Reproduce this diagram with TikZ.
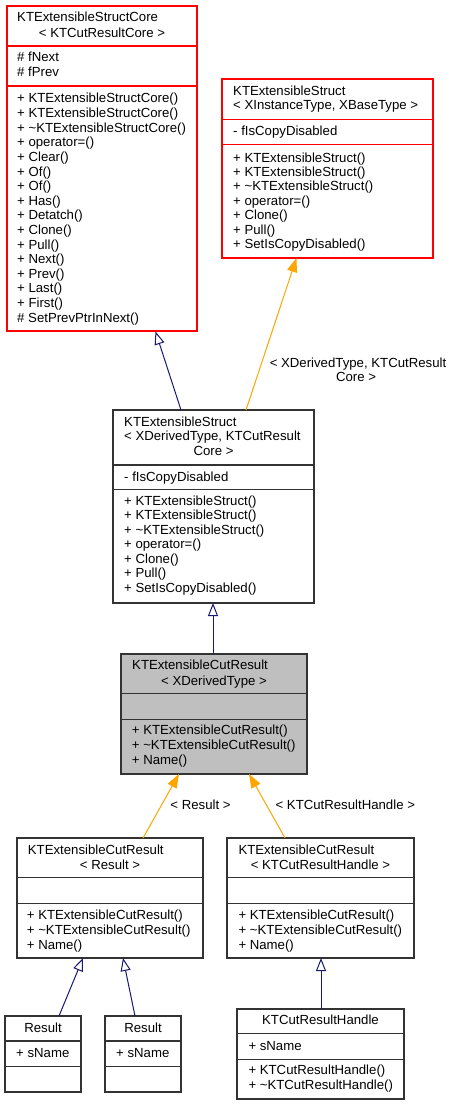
\documentclass[tikz,border=0pt]{standalone}
\usepackage{fontspec}
\setmainfont{Liberation Sans}
\usetikzlibrary{arrows.meta}
\definecolor{navy}{HTML}{191970}
\definecolor{orng}{HTML}{FFA500}
\definecolor{grayfill}{HTML}{BFBFBF}
\begin{document}
\begin{tikzpicture}[x=1pt,y=-1pt,
  box/.style={draw=black!80,line width=1.1pt,inner sep=0pt,outer sep=0pt},
  redbox/.style={box,draw=red},
  sep/.style={draw=black!80,line width=1.1pt},
  redsep/.style={sep,draw=red},
  txt/.style={font=\fontsize{13.2}{14.6}\selectfont,inner sep=0pt,anchor=base west},
  ctxt/.style={txt,anchor=base},
  inh/.style={draw=navy,line width=1pt,-{Triangle[open,length=13pt,width=10pt,fill=white]}},
  tmpl/.style={draw=orng,line width=1pt,-{Triangle[length=14pt,width=10pt]}}]
\useasboundingbox (0,0) rectangle (454,1105);

% ---------- Box A ----------
\node[redbox,minimum width=190pt,minimum height=325pt] (A) at (102,168.5) {};
\draw[redsep] (A.west |- 0,46) -- (A.east |- 0,46);
\draw[redsep] (A.west |- 0,86) -- (A.east |- 0,86);
\node[txt] (A-t1) at (17,22) {KTExtensibleStructCore};
\node[ctxt] (A-t2) at (102,37.3) {< KTCutResultCore >};
\node[txt] (A-a1) at (17,62) {\# fNext};
\node[txt] (A-a2) at (17,76.7) {\# fPrev};
\foreach [count=\i from 0] \t in {{+ KTExtensibleStructCore()},{+ KTExtensibleStructCore()},{+ \textasciitilde KTExtensibleStructCore()},{+ operator=()},{+ Clear()},{+ Of()},{+ Of()},{+ Has()},{+ Detatch()},{+ Clone()},{+ Pull()},{+ Next()},{+ Prev()},{+ Last()},{+ First()},{\# SetPrevPtrInNext()}}
  \node[txt] (A-m\i) at (17,103+\i*14.6) {\t};

% ---------- Box B ----------
\node[redbox,minimum width=211pt,minimum height=179pt] (B) at (327.5,168.5) {};
\draw[redsep] (B.west |- 0,119.3) -- (B.east |- 0,119.3);
\draw[redsep] (B.west |- 0,144.3) -- (B.east |- 0,144.3);
\node[txt] (B-t1) at (233,95.4) {KTExtensibleStruct};
\node[txt] (B-t2) at (233,109.7) {< XInstanceType, XBaseType >};
\node[txt] (B-a1) at (233,135.4) {- fIsCopyDisabled};
\foreach [count=\i from 0] \t in {{+ KTExtensibleStruct()},{+ KTExtensibleStruct()},{+ \textasciitilde KTExtensibleStruct()},{+ operator=()},{+ Clone()},{+ Pull()},{+ SetIsCopyDisabled()}}
  \node[txt] (B-m\i) at (233,162+\i*14.45) {\t};

% ---------- Box C ----------
\node[box,minimum width=201pt,minimum height=193pt] (C) at (213.5,506.5) {};
\draw[sep] (C.west |- 0,465) -- (C.east |- 0,465);
\draw[sep] (C.west |- 0,489.3) -- (C.east |- 0,489.3);
\node[txt] (C-t1) at (124,426.4) {KTExtensibleStruct};
\node[txt] (C-t2) at (124,440.9) {< XDerivedType, KTCutResult};
\node[ctxt] (C-t3) at (213.5,455.4) {Core >};
\node[txt] (C-a1) at (124,481.4) {- fIsCopyDisabled};
\foreach [count=\i from 0] \t in {{+ KTExtensibleStruct()},{+ KTExtensibleStruct()},{+ \textasciitilde KTExtensibleStruct()},{+ operator=()},{+ Clone()},{+ Pull()},{+ SetIsCopyDisabled()}}
  \node[txt] (C-m\i) at (124,505.4+\i*14.45) {\t};

% ---------- Box D ----------
\node[box,fill=grayfill,minimum width=186pt,minimum height=120pt] (D) at (214,714) {};
\draw[sep] (D.west |- 0,693.3) -- (D.east |- 0,693.3);
\draw[sep] (D.west |- 0,719.3) -- (D.east |- 0,719.3);
\node[txt] (D-t1) at (132,669.7) {KTExtensibleCutResult};
\node[ctxt] (D-t2) at (214,685.2) {< XDerivedType >};
\foreach [count=\i from 0] \t in {{+ KTExtensibleCutResult()},{+ \textasciitilde KTExtensibleCutResult()},{+ Name()}}
  \node[txt] (D-m\i) at (131.7,734.7+\i*15) {\t};

% ---------- Box E ----------
\node[box,minimum width=186pt,minimum height=120pt] (E) at (110,898) {};
\draw[sep] (E.west |- 0,877.3) -- (E.east |- 0,877.3);
\draw[sep] (E.west |- 0,903.3) -- (E.east |- 0,903.3);
\node[txt] (E-t1) at (27.7,854) {KTExtensibleCutResult};
\node[ctxt] (E-t2) at (110,869) {< Result >};
\foreach [count=\i from 0] \t in {{+ KTExtensibleCutResult()},{+ \textasciitilde KTExtensibleCutResult()},{+ Name()}}
  \node[txt] (E-m\i) at (26.7,919.7+\i*14.85) {\t};

% ---------- Box F ----------
\node[box,minimum width=187pt,minimum height=120pt] (F) at (320.5,898) {};
\draw[sep] (F.west |- 0,877.3) -- (F.east |- 0,877.3);
\draw[sep] (F.west |- 0,903.3) -- (F.east |- 0,903.3);
\node[txt] (F-t1) at (238.3,854) {KTExtensibleCutResult};
\node[ctxt] (F-t2) at (320.5,869) {< KTCutResultHandle >};
\foreach [count=\i from 0] \t in {{+ KTExtensibleCutResult()},{+ \textasciitilde KTExtensibleCutResult()},{+ Name()}}
  \node[txt] (F-m\i) at (238.3,919.7+\i*14.85) {\t};

% ---------- Box G ----------
\node[box,minimum width=76pt,minimum height=76pt] (G) at (43,1054) {};
\draw[sep] (G.west |- 0,1041) -- (G.east |- 0,1041);
\draw[sep] (G.west |- 0,1066.7) -- (G.east |- 0,1066.7);
\node[ctxt] (G-t1) at (43,1032) {Result};
\node[txt] (G-a1) at (16,1057) {+ sName};

% ---------- Box H ----------
\node[box,minimum width=76pt,minimum height=76pt] (H) at (143,1054) {};
\draw[sep] (H.west |- 0,1041) -- (H.east |- 0,1041);
\draw[sep] (H.west |- 0,1066.7) -- (H.east |- 0,1066.7);
\node[ctxt] (H-t1) at (143,1032) {Result};
\node[txt] (H-a1) at (116,1057) {+ sName};

% ---------- Box I ----------
\node[box,minimum width=167pt,minimum height=90pt] (I) at (320.5,1054) {};
\draw[sep] (I.west |- 0,1033.3) -- (I.east |- 0,1033.3);
\draw[sep] (I.west |- 0,1059.3) -- (I.east |- 0,1059.3);
\node[ctxt] (I-t1) at (320.5,1024.7) {KTCutResultHandle};
\node[txt] (I-a1) at (248.3,1050.4) {+ sName};
\node[txt] (I-m0) at (248.3,1074.7) {+ KTCutResultHandle()};
\node[txt] (I-m1) at (248.3,1089.7) {+ \textasciitilde KTCutResultHandle()};

% ---------- connector end points ----------
\coordinate (CtoA-s) at (181,410);   \coordinate (CtoA-e) at (155.5,331.5);
\coordinate (CtoB-s) at (246,410);   \coordinate (CtoB-e) at (296.5,258);
\coordinate (DtoC-s) at (213,654);   \coordinate (DtoC-e) at (213,603);
\coordinate (EtoD-s) at (143,838);   \coordinate (EtoD-e) at (179,774);
\coordinate (FtoD-s) at (285,838);   \coordinate (FtoD-e) at (249,774);
\coordinate (GtoE-s) at (59,1016);   \coordinate (GtoE-e) at (83,958);
\coordinate (HtoE-s) at (135,1016);  \coordinate (HtoE-e) at (123,958);
\coordinate (ItoF-s) at (321,1009);  \coordinate (ItoF-e) at (321,958);

\draw[inh] (CtoA-s) -- (CtoA-e);
\draw[tmpl] (CtoB-s) -- (CtoB-e);
\draw[inh] (DtoC-s) -- (DtoC-e);
\draw[tmpl] (EtoD-s) -- (EtoD-e);
\draw[tmpl] (FtoD-s) -- (FtoD-e);
\draw[inh] (GtoE-s) -- (GtoE-e);
\draw[inh] (HtoE-s) -- (HtoE-e);
\draw[inh] (ItoF-s) -- (ItoF-e);

% ---------- edge labels ----------
\node[ctxt] (lbl1a) at (358,367.7) {< XDerivedType, KTCutResult};
\node[ctxt] (lbl1b) at (356,381.4) {Core >};
\node[ctxt] (lbl2) at (200.5,809) {< Result >};
\node[ctxt] (lbl3) at (345.3,809) {< KTCutResultHandle >};
\end{tikzpicture}
\end{document}
